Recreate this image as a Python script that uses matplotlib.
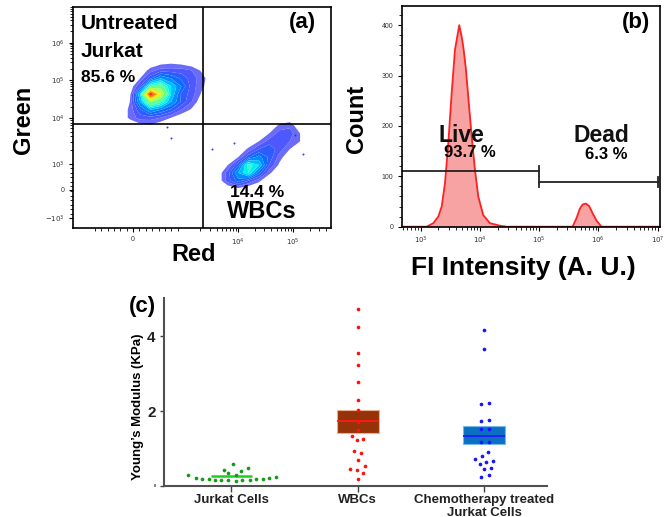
import numpy as np
import matplotlib.pyplot as plt
from matplotlib.colors import Normalize

plt.rcParams['font.family'] = ['Liberation Sans', 'DejaVu Sans']

# ---- (a) flow cytometry dot plot, values in instrument channels (0-1000) ----
jurkat_x = [180, 220, 260, 300, 340, 380, 420, 460, 500, 540]
jurkat_y = [880, 840, 800, 760, 720, 680, 640, 600, 560, 520, 480]
jurkat_density = [
    [0, 0, 0, 0, 0, 0, 0, 0, 0, 0],
    [0, 0, 0, 0, 0.2, 0.3, 0.2, 0, 0, 0],
    [0, 0, 0, 0.6, 1, 1, 1, 0.8, 0.3, 0],
    [0, 0, 0.4, 1.5, 2.5, 2, 1.5, 1, 0.6, 0],
    [0, 0, 1.2, 4, 4.5, 3, 2, 1, 0.5, 0],
    [0, 0.2, 3, 9, 6, 3, 1.5, 1, 0.3, 0],
    [0, 0.4, 2.5, 5, 4, 2.5, 1.5, 0.8, 0, 0],
    [0, 0.5, 1.5, 2.5, 2, 1.5, 0.8, 0.3, 0, 0],
    [0, 0.5, 1, 1, 0.8, 0.4, 0, 0, 0, 0],
    [0, 0, 0.2, 0.3, 0, 0, 0, 0, 0, 0],
    [0, 0, 0, 0, 0, 0, 0, 0, 0, 0],
]
wbc_x = [520, 560, 600, 640, 680, 720, 760, 800, 840, 880, 920]
wbc_y = [560, 520, 480, 440, 400, 360, 320, 280, 240, 200, 160]
wbc_density = [
    [0, 0, 0, 0, 0, 0, 0, 0, 0, 0, 0],
    [0, 0, 0, 0, 0, 0, 0, 0.5, 0.7, 0, 0],
    [0, 0, 0, 0, 0, 0, 0.4, 1, 1, 0.4, 0],
    [0, 0, 0, 0, 0, 0.4, 1, 1.2, 0.8, 0.4, 0],
    [0, 0, 0, 0, 0.5, 1.2, 1.5, 1, 0.4, 0, 0],
    [0, 0, 0, 0.4, 1.5, 2.2, 1.5, 0.6, 0, 0, 0],
    [0, 0, 0.4, 1.5, 3.8, 3, 1.2, 0.3, 0, 0, 0],
    [0, 0, 1, 2.5, 3.5, 1.8, 0.5, 0, 0, 0, 0],
    [0, 0, 1, 1.8, 1.2, 0.5, 0, 0, 0, 0, 0],
    [0, 0, 0, 0.3, 0, 0, 0, 0, 0, 0, 0],
    [0, 0, 0, 0, 0, 0, 0, 0, 0, 0, 0],
]
outlier_x = [363, 380, 538, 625, 890, 860]
outlier_y = [511, 458, 400, 434, 377, 470]
gate_red = 505
gate_green = 526

# channel position of each labelled decade
green_ticks = [50, 195, 326, 557, 751, 941]
green_labels = ['$-10^{3}$', '0', '$10^{3}$', '$10^{4}$', '$10^{5}$', '$10^{6}$']
red_ticks = [233, 640, 853]
red_labels = ['0', '$10^{4}$', '$10^{5}$']

# ---- (b) histogram ----
hist_log = [2.68, 3.103, 3.214, 3.298, 3.356, 3.411, 3.467, 3.524, 3.580, 3.652,
            3.693, 3.720, 3.760, 3.804, 3.862, 3.917, 3.973, 4.057, 4.170, 4.339,
            4.452, 5.565, 5.632, 5.688, 5.734, 5.789, 5.845, 5.902, 5.970, 6.054, 7.04]
hist_count = [0, 0, 7, 20, 40, 86, 165, 265, 351, 400,
              377, 357, 318, 258, 179, 113, 60, 23, 7, 2,
              0, 0, 17, 36, 44, 46, 41, 27, 12, 0, 0]
live_gate = (10**2.68, 1e5, 111)
dead_gate = (1e5, 1e7, 88)

# ---- (c) Young's modulus ----
groups = ['Jurkat Cells', 'WBCs', 'Chemotherapy treated\nJurkat Cells']
jurkat_E = [0.29, 0.22, 0.20, 0.20, 0.17, 0.44, 0.17, 0.34, 0.15, 0.58,
            0.30, 0.12, 0.17, 0.40, 0.47, 0.16, 0.19, 0.20, 0.21, 0.25]
jurkat_off = [-0.344, -0.28, -0.23, -0.18, -0.127, -0.061, -0.079, -0.024, -0.029, 0.01,
              0.032, 0.032, 0.082, 0.079, 0.13, 0.143, 0.193, 0.248, 0.30, 0.352]
wbc_E = [4.74, 4.26, 3.57, 3.24, 2.79, 2.31, 2.03, 1.71, 1.51, 1.34,
         1.22, 1.26, 0.93, 0.89, 0.70, 0.54, 0.45, 0.44, 0.35, 0.19]
wbc_off = [0, 0, 0, 0, 0, 0, 0, 0, 0, -0.045,
           -0.008, 0.043, -0.029, 0.026, 0, 0.053, -0.064, -0.008, 0.040, 0.005]
chemo_E = [4.18, 3.67, 2.19, 2.22, 1.74, 1.76, 1.52, 1.52, 1.19, 1.19,
           0.90, 0.81, 0.73, 0.64, 0.67, 0.58, 0.49, 0.45, 0.24, 0.29]
chemo_off = [0, 0, -0.028, 0.038, -0.028, 0.038, -0.028, 0.038, -0.028, 0.038,
             0.032, -0.016, -0.07, 0.018, 0.071, -0.034, 0.056, 0, -0.026, 0.037]
jurkat_median = 0.26
box_q1 = [1.42, 1.11]
box_q3 = [2.03, 1.60]
box_median = [1.73, 1.35]


def log_minor(decades):
    # minor ticks between labelled decades (channel positions)
    pos = []
    for a, b in zip(decades[:-1], decades[1:]):
        for k in range(2, 10):
            pos.append(a + (b - a) * np.log10(k))
    return pos


fig = plt.figure(figsize=(6.65, 5.17), dpi=100)

# ===================== (a) =====================
ax = fig.add_axes([0.1098, 0.559, 0.388, 0.4275])
norm = Normalize(-0.5, 10)
levels = [0.4, 0.8, 1.2, 1.6, 2.0, 2.5, 3.0, 3.5, 4.0, 5, 6, 7, 8, 9, 10]
band_colors = []
for lo, hi in zip(levels[:-1], levels[1:]):
    m = 0.5 * (lo + hi)
    c = np.array(plt.cm.jet(norm(m))[:3])
    w = min(1.0, 0.4 + 0.3 * m)   # sparse outer dots look paler
    band_colors.append(tuple(w * c + (1 - w) * np.ones(3)))
for gx, gy, dens in [(jurkat_x, jurkat_y, jurkat_density), (wbc_x, wbc_y, wbc_density)]:
    ax.contourf(gx, gy, np.array(dens), levels=levels, colors=band_colors,
                antialiased=True)
ax.scatter(outlier_x, outlier_y, s=2, color='#3030ff', lw=0)
ax.axvline(gate_red, color='black', lw=1.2)
ax.axhline(gate_green, color='black', lw=1.2)
ax.set_xlim(0, 1000)
ax.set_ylim(0, 1000)
ax.set_yticks(green_ticks)
ax.set_yticklabels(green_labels, fontsize=5, color='#333333')
ax.set_xticks(red_ticks)
ax.set_xticklabels(red_labels, fontsize=5, color='#333333')
lin_y = list(np.linspace(50, 326, 13)[1:-1])
ax.set_yticks(log_minor([326, 557, 751, 941, 1131]) + lin_y, minor=True)
lin_x = list(np.linspace(60, 430, 16)[1:-1])
ax.set_xticks([p for p in log_minor([430, 640, 853, 1066]) if p < 1000] + lin_x, minor=True)
ax.tick_params(which='major', length=3, width=0.8, pad=3)
ax.tick_params(which='minor', length=2, width=0.6)
for s in ax.spines.values():
    s.set_linewidth(1.2)
ax.text(0.031, 0.899, 'Untreated', transform=ax.transAxes, fontsize=15,
        fontweight='bold', ha='left', va='baseline')
ax.text(0.031, 0.774, 'Jurkat', transform=ax.transAxes, fontsize=15,
        fontweight='bold', ha='left', va='baseline')
ax.text(0.031, 0.659, '85.6 %', transform=ax.transAxes, fontsize=12.5,
        fontweight='bold', ha='left', va='baseline')
ax.text(0.888, 0.928, '(a)', transform=ax.transAxes, fontsize=16,
        fontweight='bold', ha='center', va='center')
ax.text(0.609, 0.142, '14.4 %', transform=ax.transAxes, fontsize=12.5,
        fontweight='bold', ha='left', va='baseline')
ax.text(0.596, 0.044, 'WBCs', transform=ax.transAxes, fontsize=17,
        fontweight='bold', ha='left', va='baseline')
ax.text(-0.19, 0.489, 'Green', transform=ax.transAxes, fontsize=17,
        fontweight='bold', ha='center', va='center', rotation=90)
ax.text(0.469, -0.122, 'Red', transform=ax.transAxes, fontsize=17,
        fontweight='bold', ha='center', va='center')

# ===================== (b) =====================
bx = fig.add_axes([0.604, 0.5615, 0.3884, 0.4269])
xs = 10 ** np.array(hist_log)
bx.fill_between(xs, hist_count, color='#f7a3a3', lw=0)
bx.plot(xs, hist_count, color='#ff2020', lw=1.3)
bx.set_xscale('log')
bx.set_xlim(10**2.68, 10**7.04)
bx.set_ylim(0, 438)
x0, x1, gy = live_gate
bx.plot([x0, x1], [gy, gy], color='#222222', lw=1.3)
bx.plot([x1, x1], [gy - 10, gy + 10], color='#222222', lw=1.3)
x0, x1, gy = dead_gate
bx.plot([x0, x1], [gy, gy], color='#222222', lw=1.3)
bx.plot([x0, x0], [gy - 10, gy + 10], color='#222222', lw=1.3)
bx.plot([x1, x1], [gy - 10, gy + 10], color='#222222', lw=1.3, clip_on=False)
bx.set_xticks([1e3, 1e4, 1e5, 1e6, 1e7])
bx.set_xticklabels(['$10^{3}$', '$10^{4}$', '$10^{5}$', '$10^{6}$', '$10^{7}$'],
                   fontsize=5, color='#333333')
bx.set_yticks([0, 100, 200, 300, 400])
bx.set_yticklabels(['0', '100', '200', '300', '400'], fontsize=5, color='#333333')
bx.set_yticks(np.arange(20, 438, 20), minor=True)
bx.tick_params(which='major', length=3, width=0.8, pad=3)
bx.tick_params(which='minor', length=2, width=0.6)
for s in bx.spines.values():
    s.set_linewidth(1.2)
bx.text(0.907, 0.923, '(b)', transform=bx.transAxes, fontsize=16,
        fontweight='bold', ha='center', va='center')
bx.text(0.2296, 0.4155, 'Live', transform=bx.transAxes, fontsize=16.5,
        fontweight='bold', color='#111111', ha='center', va='center')
bx.text(0.264, 0.338, '93.7 %', transform=bx.transAxes, fontsize=12,
        fontweight='bold', ha='center', va='center')
bx.text(0.774, 0.4155, 'Dead', transform=bx.transAxes, fontsize=16.5,
        fontweight='bold', color='#111111', ha='center', va='center')
bx.text(0.794, 0.327, '6.3 %', transform=bx.transAxes, fontsize=12,
        fontweight='bold', ha='center', va='center')
bx.text(-0.173, 0.488, 'Count', transform=bx.transAxes, fontsize=17,
        fontweight='bold', ha='center', va='center', rotation=90)
bx.text(0.47, -0.187, 'FI Intensity (A. U.)', transform=bx.transAxes, fontsize=19,
        fontweight='bold', ha='center', va='center')

# ===================== (c) =====================
cx = fig.add_axes([0.2466, 0.0600, 0.576, 0.3636])
pos = np.arange(len(groups))
cx.bar(pos[1:], np.array(box_q3) - np.array(box_q1), bottom=box_q1, width=0.33,
       color=['#963208', '#0b70c4'], edgecolor=['#e8b090', '#7ab8ea'], lw=0.8, zorder=1)
cx.hlines(box_median, pos[1:] - 0.165, pos[1:] + 0.165, colors=['#ff1a1a', '#1a1aff'],
          lw=1.3, zorder=2)
cx.hlines(jurkat_median, pos[0] - 0.16, pos[0] + 0.16, colors='#22cc22', lw=1.8, zorder=2)
cx.scatter(pos[0] + np.array(jurkat_off), jurkat_E, s=7, color='#159a15', lw=0, zorder=3)
cx.scatter(pos[1] + np.array(wbc_off), wbc_E, s=7, color='#ff1010', lw=0, zorder=3)
cx.scatter(pos[2] + np.array(chemo_off), chemo_E, s=7, color='#1515ff', lw=0, zorder=3)
cx.set_xlim(-0.534, 2.497)
cx.set_ylim(0, 5.03)
cx.set_xticks(pos)
cx.set_xticklabels(groups, fontsize=9.5, fontweight='bold', color='#222222',
                   linespacing=1.1)
cx.set_yticks([0, 2, 4])
cx.set_yticklabels(['0', '2', '4'], fontweight='bold', color='#222222')
labs = cx.get_yticklabels()
labs[0].set_fontsize(3)
labs[1].set_fontsize(11)
labs[2].set_fontsize(11)
cx.tick_params(axis='x', length=4, width=1, color='#404040', pad=2)
cx.tick_params(axis='y', length=3, width=1, color='#404040', pad=3)
for side in ['top', 'right']:
    cx.spines[side].set_visible(False)
for side in ['left', 'bottom']:
    cx.spines[side].set_linewidth(1.5)
    cx.spines[side].set_color('#505050')
cx.text(-0.055, 0.957, '(c)', transform=cx.transAxes, fontsize=16,
        fontweight='bold', ha='center', va='center')
cx.text(-0.068, 0.42, "Young’s Modulus (KPa)", transform=cx.transAxes, fontsize=9.5,
        fontweight='bold', ha='center', va='center', rotation=90)

fig.savefig('out.png', dpi=100)
